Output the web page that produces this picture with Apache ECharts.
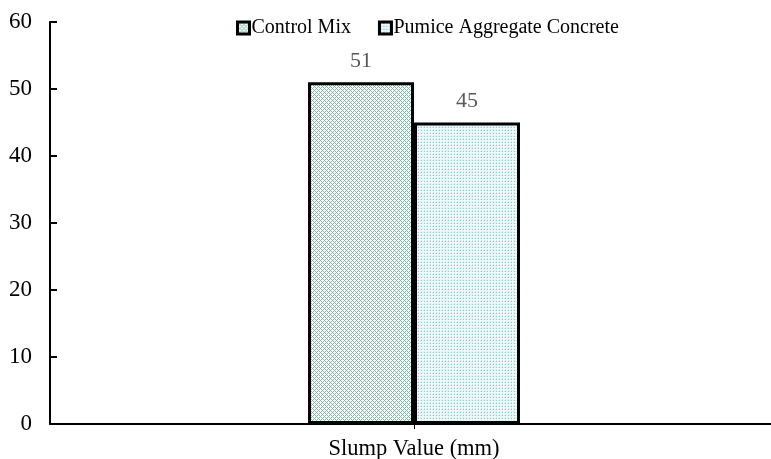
<!DOCTYPE html>
<html>
<head>
<meta charset="utf-8">
<script src="https://cdn.jsdelivr.net/npm/echarts@6/dist/echarts.min.js"></script>
<style>
html,body{margin:0;padding:0;background:#fff;}
#chart{width:771px;height:459px;}
</style>
</head>
<body>
<div id="chart"></div>
<script>
const categories = ['Slump Value (mm)'];
const seriesNames = ['Control Mix', 'Pumice Aggregate Concrete'];
const controlMix = [51];
const pumiceConcrete = [45];
const yTicks = [0, 10, 20, 30, 40, 50, 60];

function crossPattern() {
  const c = document.createElement('canvas');
  c.width = 4; c.height = 4;
  const ctx = c.getContext('2d');
  ctx.fillStyle = '#ffffff';
  ctx.fillRect(0, 0, 4, 4);
  ctx.fillStyle = '#72c4a0';
  for (let x = 0; x < 4; x++) {
    for (let y = 0; y < 4; y++) {
      if ((x + y) % 4 === 0 || ((x - y) % 4 + 4) % 4 === 0) ctx.fillRect(x, y, 1, 1);
    }
  }
  return c;
}
function dotPattern() {
  const c = document.createElement('canvas');
  c.width = 3; c.height = 3;
  const ctx = c.getContext('2d');
  ctx.fillStyle = '#f0f9f9';
  ctx.fillRect(0, 0, 3, 3);
  ctx.fillStyle = '#8ccdd3';
  ctx.fillRect(1, 1, 1, 1);
  ctx.fillStyle = '#cdeaec';
  ctx.fillRect(0, 1, 1, 1);
  ctx.fillRect(1, 0, 1, 1);
  return c;
}

const font = 'Liberation Serif';
const chart = echarts.init(document.getElementById('chart'), null, {renderer: 'canvas'});
const pat1 = {image: crossPattern(), repeat: 'repeat'};
const pat2 = {image: dotPattern(), repeat: 'repeat'};

chart.setOption({
  animation: false,
  backgroundColor: '#ffffff',
  textStyle: {fontFamily: font},
  legend: {
    left: 231, top: 13,
    itemWidth: 12, itemHeight: 12, itemGap: 27,
    icon: 'rect',
    textStyle: {fontFamily: font, fontSize: 20, color: '#000', padding: [0, 0, 0, -3]},
    itemStyle: {borderColor: '#000', borderWidth: 3},
    data: seriesNames
  },
  grid: {left: 50, top: 22, width: 728, bottom: 35, containLabel: false, outerBoundsMode: 'none'},
  xAxis: {
    type: 'category',
    data: categories,
    axisLine: {lineStyle: {color: '#000', width: 2}},
    axisTick: {show: true, alignWithLabel: true, length: 5, lineStyle: {color: '#000'}},
    axisLabel: {fontFamily: font, fontSize: 22.5, color: '#000', margin: 14}
  },
  yAxis: {
    type: 'value',
    min: yTicks[0], max: yTicks[yTicks.length - 1], interval: 10,
    axisLine: {show: true, lineStyle: {color: '#000', width: 2}},
    axisTick: {show: true, inside: true, length: 7, lineStyle: {color: '#000', width: 2}},
    splitLine: {show: false},
    axisLabel: {fontFamily: font, fontSize: 23, color: '#000', margin: 18}
  },
  series: [
    {
      name: seriesNames[0], type: 'bar', data: controlMix,
      barWidth: 106, barGap: '0%',
      itemStyle: {color: pat1, borderColor: '#000', borderWidth: 3},
      label: {show: true, position: 'top', distance: 10, fontFamily: font, fontSize: 22, color: '#595959'}
    },
    {
      name: seriesNames[1], type: 'bar', data: pumiceConcrete,
      barWidth: 106, barGap: '0%',
      itemStyle: {color: pat2, borderColor: '#000', borderWidth: 3},
      label: {show: true, position: 'top', distance: 10, fontFamily: font, fontSize: 22, color: '#595959'}
    }
  ]
});
</script>
</body>
</html>
